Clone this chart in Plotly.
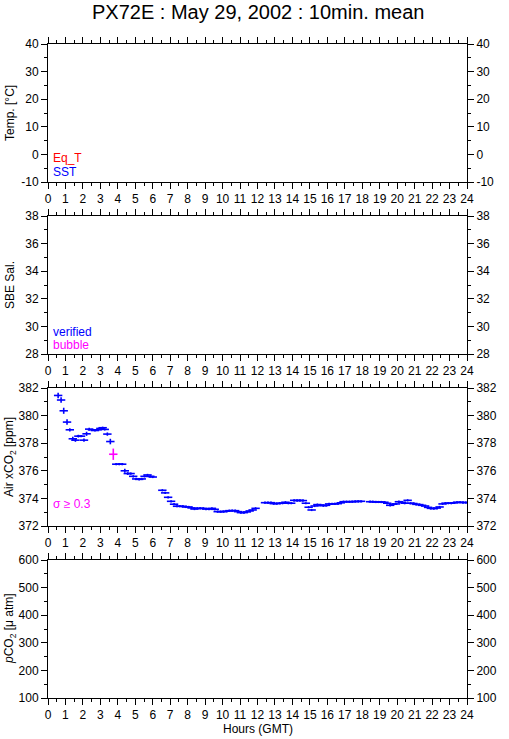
import plotly.graph_objects as go

# ---------------- data ----------------
hours_seg1 = [0.58, 0.75, 0.90, 1.09, 1.25, 1.42, 1.57, 1.74, 1.89, 2.06, 2.21, 2.36, 2.52, 2.69,
              2.84, 3.00, 3.13, 3.25, 3.40, 3.57, 3.91, 4.08, 4.25, 4.40, 4.57, 4.73, 4.88,
              5.05, 5.22, 5.37, 5.53, 5.70, 5.86, 6.00]
xco2_seg1 = [381.46, 381.13, 380.35, 379.53, 378.97, 378.32, 378.22, 378.51, 378.51, 378.22, 378.68,
             379.02, 378.97, 378.92, 378.97, 379.07, 379.12, 379.00, 378.66, 378.12, 376.48,
             376.48, 376.48, 376.00, 375.80, 375.80, 375.60, 375.41, 375.38, 375.41, 375.60,
             375.70, 375.60, 375.55]
sigma_seg1 = [0.20, 0.20, 0.22, 0.20, 0.12, 0.15, 0.12, 0.10, 0.08, 0.12, 0.15, 0.10, 0.08, 0.08,
              0.08, 0.08, 0.08, 0.08, 0.12, 0.20, 0.08, 0.08, 0.08, 0.15, 0.10, 0.08, 0.08,
              0.08, 0.08, 0.08, 0.08, 0.08, 0.08, 0.08]

hours_seg2 = [6.55, 6.71, 6.88, 7.05, 7.22, 7.39, 7.55, 7.72, 7.89, 8.05, 8.22, 8.39, 8.55, 8.72,
              8.89, 9.05, 9.22, 9.39, 9.55, 9.72, 9.89, 10.05, 10.22, 10.39, 10.55, 10.72, 10.89,
              11.05, 11.22, 11.39, 11.55, 11.72, 11.89]
xco2_seg2 = [374.59, 374.40, 374.08, 373.79, 373.58, 373.43, 373.43, 373.43, 373.38, 373.38, 373.31,
             373.23, 373.28, 373.28, 373.28, 373.23, 373.23, 373.28, 373.21, 373.04, 373.04,
             373.04, 373.07, 373.11, 373.11, 373.11, 373.04, 372.97, 372.97, 373.02, 373.09,
             373.16, 373.28]

hours_seg3 = [12.43, 12.60, 12.77, 12.93, 13.10, 13.27, 13.43, 13.60, 13.77, 13.93, 14.10, 14.27,
              14.43, 14.60, 14.77, 14.93, 15.10, 15.27, 15.43, 15.60, 15.77, 15.93, 16.10, 16.27,
              16.43, 16.60, 16.77, 16.93, 17.10, 17.27, 17.43, 17.60, 17.77, 17.93]
xco2_seg3 = [373.69, 373.69, 373.69, 373.62, 373.62, 373.65, 373.65, 373.72, 373.65, 373.65, 373.86,
             373.84, 373.86, 373.84, 373.65, 373.36, 373.16, 373.45, 373.55, 373.52, 373.47,
             373.50, 373.60, 373.60, 373.60, 373.62, 373.68, 373.76, 373.76, 373.76, 373.76,
             373.78, 373.78, 373.79]

hours_seg4 = [18.45, 18.60, 18.77, 18.93, 19.10, 19.27, 19.43, 19.60, 19.77, 19.93, 20.10, 20.27,
              20.43, 20.60, 20.77, 20.93, 21.10, 21.27, 21.43, 21.60, 21.77, 21.93, 22.10, 22.27,
              22.43, 22.60, 22.77, 22.93, 23.10, 23.27, 23.43, 23.60, 23.77, 23.93]
xco2_seg4 = [373.76, 373.76, 373.74, 373.74, 373.74, 373.72, 373.65, 373.50, 373.58, 373.60, 373.76,
             373.72, 373.65, 373.86, 373.65, 373.63, 373.57, 373.55, 373.50, 373.45, 373.35,
             373.28, 373.26, 373.30, 373.38, 373.60, 373.65, 373.65, 373.65, 373.68, 373.72,
             373.72, 373.70, 373.70]

hours_flag = [3.74]
xco2_flag = [377.20]
sigma_flag = [0.41]

hour_ticks = list(range(0, 25))
hour_labels = [str(h) for h in hour_ticks]

temp_ticks = [-10, 0, 10, 20, 30, 40]
sal_ticks = [28, 30, 32, 34, 36, 38]
xco2_ticks = [372, 374, 376, 378, 380, 382]
pco2_ticks = [100, 200, 300, 400, 500, 600]

# ---------------- assemble ----------------
nan = None
hours_ok = hours_seg1 + [nan] + hours_seg2 + [nan] + hours_seg3 + [nan] + hours_seg4
xco2_ok = xco2_seg1 + [nan] + xco2_seg2 + [nan] + xco2_seg3 + [nan] + xco2_seg4
sigma_ok = (sigma_seg1 + [0] + [0.08] * len(hours_seg2) + [0] + [0.08] * len(hours_seg3)
            + [0] + [0.08] * len(hours_seg4))

BLUE = "#0000ff"
MAG = "#ff00ff"
RED = "#ff0000"
FONT = "Liberation Sans, Arial, sans-serif"

fig = go.Figure()

fig.add_trace(go.Scatter(
    x=hours_ok, y=xco2_ok, mode="markers", xaxis="x3", yaxis="y3",
    marker=dict(symbol="line-ew", size=6, line=dict(width=1.6, color=BLUE), color=BLUE),
    error_y=dict(type="data", array=sigma_ok, visible=True, color=BLUE, thickness=1.6, width=0),
    showlegend=False, hoverinfo="x+y"))
fig.add_trace(go.Scatter(
    x=hours_flag, y=xco2_flag, mode="markers", xaxis="x3", yaxis="y3",
    marker=dict(symbol="line-ew", size=6, line=dict(width=1.6, color=MAG), color=MAG),
    error_y=dict(type="data", array=sigma_flag, visible=True, color=MAG, thickness=1.6, width=0),
    showlegend=False))

# empty traces to attach axes
for i in range(4):
    fig.add_trace(go.Scatter(x=[], y=[], xaxis=f"x{i+1}", yaxis=f"y{i+5}", showlegend=False))
for i in [0, 1, 3]:
    fig.add_trace(go.Scatter(x=[], y=[], xaxis=f"x{i+1}", yaxis=f"y{i+1}", showlegend=False))

H_TOP = 44
H_BOT = 698
PH = H_BOT - H_TOP
tops = [44, 216, 388, 560]
domains = [[1 - (t + 138 - H_TOP) / PH, 1 - (t - H_TOP) / PH] for t in tops]
domains[3][0] = 0.0
domains[0][1] = 1.0

yticks = [temp_ticks, sal_ticks, xco2_ticks, pco2_ticks]
yminor = [5, 1, 1, 50]

tickfont = dict(family=FONT, size=12, color="black")
layout = dict(
    width=509, height=739,
    margin=dict(l=48, r=33, t=H_TOP, b=739 - H_BOT),
    paper_bgcolor="white", plot_bgcolor="white",
    font=dict(family=FONT, size=12, color="black"),
    showlegend=False,
)

for i in range(4):
    xa = dict(
        domain=[0, 1], range=[0, 24], anchor=f"y{i+1}",
        tickmode="array", tickvals=hour_ticks, ticktext=hour_labels,
        ticks="outside", ticklen=6, tickwidth=1, tickcolor="black",
        minor=dict(dtick=0.5, tick0=0, ticks="outside", ticklen=3, tickcolor="black", tickwidth=1),
        showline=True, linecolor="black", linewidth=1, mirror="ticks",
        showgrid=False, zeroline=False, tickfont=tickfont, fixedrange=True,
    )
    layout[f"xaxis{i+1}"] = xa
    tv = yticks[i]
    ya = dict(
        domain=domains[i], range=[tv[0], tv[-1]], anchor=f"x{i+1}",
        tickmode="array", tickvals=tv, ticktext=[str(v) for v in tv],
        ticks="outside", ticklen=6, tickwidth=1, tickcolor="black",
        minor=dict(dtick=yminor[i], tick0=0, ticks="outside", ticklen=3, tickcolor="black", tickwidth=1),
        showline=True, linecolor="black", linewidth=1,
        showgrid=False, zeroline=False, tickfont=tickfont, fixedrange=True,
    )
    layout[f"yaxis{i+1}"] = ya
    yr = dict(ya)
    yr.update(side="right", overlaying=f"y{i+1}", anchor=f"x{i+1}")
    yr.pop("domain")
    layout[f"yaxis{i+5}"] = yr

fig.update_layout(**layout)

# titles
fig.add_annotation(text="PX72E : May 29, 2002 : 10min. mean", xref="paper", yref="paper",
                   x=0.5, y=1, yshift=32, showarrow=False,
                   font=dict(family=FONT, size=20, color="black"), xanchor="center", yanchor="middle")
fig.add_annotation(text="Hours (GMT)", xref="paper", yref="paper", x=0.5, y=0, yshift=-31,
                   showarrow=False, font=dict(family=FONT, size=12, color="black"),
                   xanchor="center", yanchor="middle")

ytitles = ["Temp. [°C]", "SBE Sal.", "Air xCO<sub>2</sub> [ppm]", "<i>p</i>CO<sub>2</sub> [μ atm]"]
for i, t in enumerate(ytitles):
    fig.add_annotation(text=t, xref="paper", yref="paper", x=0, xshift=-38,
                       y=(domains[i][0] + domains[i][1]) / 2, textangle=-90, showarrow=False,
                       font=dict(family=FONT, size=12, color="black"),
                       xanchor="center", yanchor="middle")

labels = [
    ("Eq_T", RED, "x1", "y1", -1.4),
    ("SST", BLUE, "x1", "y1", -6.5),
    ("verified", BLUE, "x2", "y2", 29.6),
    ("bubble", MAG, "x2", "y2", 28.65),
    ("σ ≥ 0.3", MAG, "x3", "y3", 373.6),
]
for text, col, xr, yr_, yv in labels:
    fig.add_annotation(text=text, xref=xr, yref=yr_, x=0.15, y=yv, showarrow=False,
                       xanchor="left", yanchor="middle",
                       font=dict(family=FONT, size=12, color=col))

fig.write_html("out.html", config={"displayModeBar": False},
               post_script="document.body.style.margin='0';document.body.style.overflow='hidden';")
